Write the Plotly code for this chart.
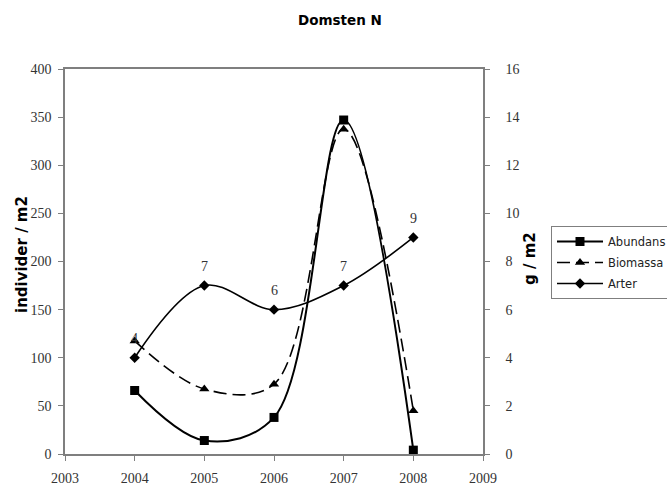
import plotly.graph_objects as go

# Survey years and measured series for the Domsten N station
years = [2004, 2005, 2006, 2007, 2008]
abundans = [66, 14, 38, 347, 4]        # individer / m2 (left axis)
biomassa = [4.7, 2.7, 2.9, 13.5, 1.8]  # g / m2 (right axis)
arter = [4, 7, 6, 7, 9]                # number of species (right axis)

left_ticks = list(range(0, 401, 50))
right_ticks = list(range(0, 17, 2))
x_ticks = list(range(2003, 2010))

W, H = 667, 486
L, R, T, B = 65, 184, 69, 32
PW, PH = W - L - R, H - T - B

serif = "Liberation Serif, Times New Roman, serif"
sans = "DejaVu Sans, Verdana, sans-serif"
axis_col = "#7f7f7f"
text_col = "#333333"


def px_x(px):
    return (px - L) / PW


def px_y(py):
    return (H - B - py) / PH


fig = go.Figure()

fig.add_trace(go.Scatter(
    x=years, y=abundans, name="Abundans", yaxis="y", legendgroup="a",
    mode="lines+markers",
    line=dict(color="black", width=2, shape="spline", smoothing=1),
    marker=dict(symbol="square", size=9, color="black"),
))
fig.add_trace(go.Scatter(
    x=years, y=biomassa, name="Biomassa", yaxis="y2", legendgroup="b",
    mode="lines+markers",
    line=dict(color="black", width=1.6, shape="spline", smoothing=1, dash="13px,6px"),
    marker=dict(symbol="triangle-up", size=9, color="black"),
))
fig.add_trace(go.Scatter(
    x=years, y=arter, name="Arter", yaxis="y2", legendgroup="c",
    mode="lines+markers",
    line=dict(color="black", width=1.6, shape="spline", smoothing=1),
    marker=dict(symbol="diamond", size=8, color="black"),
))

annotations = []
# species count printed above each Arter point
for yr, n in zip(years, arter):
    annotations.append(dict(
        x=yr, y=n, xref="x", yref="y2", text=str(n), showarrow=False,
        xanchor="center", yanchor="middle",
        yshift=19, font=dict(family=serif, size=14, color=text_col),
    ))

annotations += [
    dict(text="Domsten N", xref="paper", yref="paper", x=px_x(340), y=px_y(20),
         xanchor="center", yanchor="middle", showarrow=False,
         font=dict(family=sans, size=13.5, color="black", weight="bold")),
    dict(text="individer / m2", xref="paper", yref="paper", x=px_x(22), y=px_y(255),
         xanchor="center", yanchor="middle", textangle=-90, showarrow=False,
         font=dict(family=sans, size=15, color="black", weight="bold")),
    dict(text="g / m2", xref="paper", yref="paper", x=px_x(530), y=px_y(259),
         xanchor="center", yanchor="middle", textangle=-90, showarrow=False,
         font=dict(family=sans, size=15, color="black", weight="bold")),
]

fig.update_layout(
    width=W, height=H,
    margin=dict(l=L, r=R, t=T, b=B, autoexpand=False),
    paper_bgcolor="white", plot_bgcolor="white",
    showlegend=True,
    legend=dict(
        x=px_x(551), y=px_y(226), xanchor="left", yanchor="top",
        xref="paper", yref="paper",
        bordercolor=axis_col, borderwidth=1, bgcolor="white",
        font=dict(family=sans, size=11.5, color="#222222"),
        itemwidth=46, traceorder="grouped", tracegroupgap=2,
    ),
    xaxis=dict(
        range=[2003, 2009], tickvals=x_ticks, ticktext=[str(v) for v in x_ticks],
        showline=True, linecolor=axis_col, linewidth=1.5, mirror=True,
        ticks="outside", ticklen=5, tickcolor=axis_col, showgrid=False, zeroline=False,
        tickfont=dict(family=serif, size=14, color=text_col), ticklabelstandoff=5,
    ),
    yaxis=dict(
        range=[0, 400], tickvals=left_ticks,
        showline=True, linecolor=axis_col, linewidth=1.5,
        ticks="outside", ticklen=5, tickcolor=axis_col, showgrid=False, zeroline=False,
        tickfont=dict(family=serif, size=14, color=text_col), ticklabelstandoff=4,
    ),
    yaxis2=dict(
        range=[0, 16], tickvals=right_ticks, overlaying="y", side="right",
        showline=True, linecolor=axis_col, linewidth=1.5,
        ticks="outside", ticklen=5, tickcolor=axis_col, showgrid=False, zeroline=False,
        tickfont=dict(family=serif, size=14, color=text_col), ticklabelstandoff=13,
    ),
    annotations=annotations,
)

fig.write_html("out.html")
